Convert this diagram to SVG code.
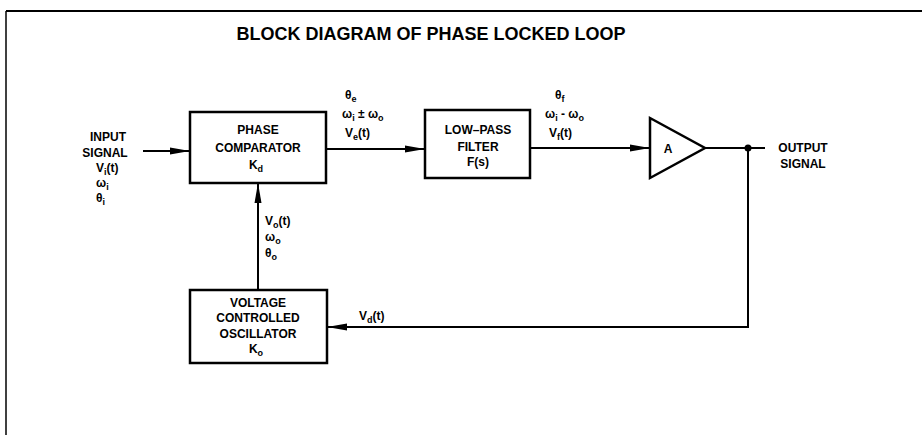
<svg xmlns="http://www.w3.org/2000/svg" width="922" height="435" viewBox="0 0 922 435">
<style>
text{font-family:"Liberation Sans",Arial,sans-serif;font-weight:bold;fill:#000;font-size:12px}
.c{text-anchor:middle}
.t{font-size:18px}
.sub{font-size:9px}
.box{fill:none;stroke:#000;stroke-width:2.5}
.ln{fill:none;stroke:#000;stroke-width:2}
</style>
<defs>
<marker id="arr" viewBox="0 0 20 10" refX="20" refY="5" markerWidth="20" markerHeight="10" orient="auto" markerUnits="userSpaceOnUse">
<path d="M0,1.5 L20,5 L0,8.5 z" fill="#000"/>
</marker>
</defs>
<rect width="922" height="435" fill="#fff"/>
<g id="frame">
<line x1="6" y1="11" x2="922" y2="11" stroke="#000" stroke-width="2"/>
<line x1="6" y1="11" x2="6" y2="435" stroke="#000" stroke-width="1.5"/>
</g>
<text class="t c" x="431" y="40">BLOCK DIAGRAM OF PHASE LOCKED LOOP</text>

<g id="connectors">
<line class="ln" x1="143" y1="151" x2="190" y2="151" marker-end="url(#arr)"/>
<line class="ln" x1="326" y1="149" x2="425" y2="149" marker-end="url(#arr)"/>
<line class="ln" x1="530" y1="148" x2="650" y2="148" marker-end="url(#arr)"/>
<line class="ln" x1="705" y1="148" x2="765" y2="148"/>
<circle cx="748" cy="148" r="3.5" fill="#000"/>
<polyline class="ln" points="748,148 748,327 327,327" marker-end="url(#arr)"/>
<line class="ln" x1="258" y1="290" x2="258" y2="183" marker-end="url(#arr)"/>
</g>

<g id="input-label">
<text class="c" x="108" y="141">INPUT</text>
<text class="c" x="105" y="157">SIGNAL</text>
<text x="96" y="172">V<tspan class="sub" dy="3">i</tspan><tspan dy="-3">(t)</tspan></text>
<text x="96" y="187">ω<tspan class="sub" dy="3">i</tspan></text>
<text x="96" y="202">θ<tspan class="sub" dy="3">i</tspan></text>
</g>

<g id="phase-comparator">
<rect class="box" x="190" y="112" width="136" height="71"/>
<text class="c" x="258" y="134">PHASE</text>
<text class="c" x="258" y="152">COMPARATOR</text>
<text class="c" x="256" y="169">K<tspan class="sub" dy="3">d</tspan></text>
</g>

<g id="ve-label">
<text x="345" y="99">θ<tspan class="sub" dy="3">e</tspan></text>
<text x="342" y="118">ω<tspan class="sub" dy="3">i</tspan><tspan dy="-3"> ± ω</tspan><tspan class="sub" dy="3">o</tspan></text>
<text x="345" y="137">V<tspan class="sub" dy="3">e</tspan><tspan dy="-3">(t)</tspan></text>
</g>

<g id="low-pass-filter">
<rect class="box" x="425" y="110" width="105" height="68"/>
<text class="c" x="478" y="134">LOW–PASS</text>
<text class="c" x="478" y="151">FILTER</text>
<text class="c" x="478" y="166">F(s)</text>
</g>

<g id="vf-label">
<text x="555" y="99">θ<tspan class="sub" dy="3">f</tspan></text>
<text x="545" y="118">ω<tspan class="sub" dy="3">i</tspan><tspan dy="-3"> - ω</tspan><tspan class="sub" dy="3">o</tspan></text>
<text x="549" y="137">V<tspan class="sub" dy="3">f</tspan><tspan dy="-3">(t)</tspan></text>
</g>

<g id="amplifier">
<polygon points="650,118 650,178 705,148" fill="none" stroke="#000" stroke-width="2.5" stroke-linejoin="miter"/>
<text class="c" x="668" y="153">A</text>
</g>

<g id="output-label">
<text class="c" x="803" y="152">OUTPUT</text>
<text class="c" x="803" y="168">SIGNAL</text>
</g>

<g id="vco">
<rect class="box" x="190" y="290" width="137" height="73"/>
<text class="c" x="258" y="307">VOLTAGE</text>
<text class="c" x="258" y="322">CONTROLLED</text>
<text class="c" x="258" y="338">OSCILLATOR</text>
<text class="c" x="256" y="353">K<tspan class="sub" dy="3">o</tspan></text>
</g>

<g id="vo-label">
<text x="265" y="225">V<tspan class="sub" dy="3">o</tspan><tspan dy="-3">(t)</tspan></text>
<text x="265" y="241">ω<tspan class="sub" dy="3">o</tspan></text>
<text x="265" y="257">θ<tspan class="sub" dy="3">o</tspan></text>
</g>

<g id="vd-label">
<text x="359" y="320">V<tspan class="sub" dy="3">d</tspan><tspan dy="-3">(t)</tspan></text>
</g>
</svg>
